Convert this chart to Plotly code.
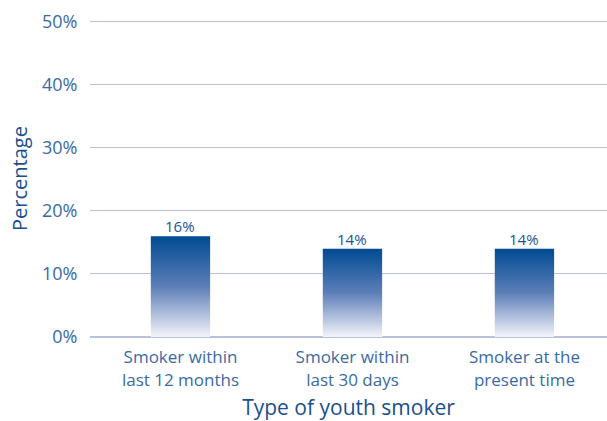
import plotly.graph_objects as go

# Share of youth by smoking status
categories = ["Smoker within<br>last 12 months", "Smoker within<br>last 30 days", "Smoker at the<br>present time"]
values = [16, 14, 14]
y_ticks = [0, 10, 20, 30, 40, 50]
y_tick_labels = ["0%", "10%", "20%", "30%", "40%", "50%"]

BAR_WIDTH = 0.345
DARK = "#004a92"
LIGHT = "#f4f4fa"
TICK_COLOR = "#3a6aa3"
TITLE_COLOR = "#1a508f"
GRID = "#b9c1dc"
FONT = "Open Sans, Noto Sans, sans-serif"

fig = go.Figure()

# Each bar is a filled rectangle with a vertical gradient (light at bottom, dark at top)
for i, v in enumerate(values):
    x0, x1 = i - BAR_WIDTH / 2, i + BAR_WIDTH / 2
    fig.add_trace(go.Scatter(
        x=[x0, x1, x1, x0, x0],
        y=[0, 0, v, v, 0],
        mode="lines",
        line=dict(width=0),
        fill="toself",
        fillgradient=dict(
            type="vertical",
            colorscale=[[0, LIGHT], [0.5, "#5d7fb8"], [1, DARK]],
        ),
        hoverinfo="skip",
        showlegend=False,
    ))

# Value labels above the bars
for i, v in enumerate(values):
    fig.add_annotation(
        x=i, y=v, text=f"{v}%", showarrow=False,
        yanchor="bottom", yshift=-2,
        font=dict(family=FONT, size=15, color="#1d5593"),
    )

fig.update_layout(
    width=607,
    height=421,
    margin=dict(l=90, r=0, t=20, b=84),
    paper_bgcolor="white",
    plot_bgcolor="white",
    font=dict(family=FONT, color=TICK_COLOR),
    xaxis=dict(
        range=[-0.526, 2.48],
        tickvals=list(range(len(categories))),
        ticktext=categories,
        tickfont=dict(size=17, color=TICK_COLOR),
        showgrid=False,
        zeroline=False,
        showline=False,
        ticks="outside",
        ticklen=5,
        tickcolor="rgba(0,0,0,0)",
        title=dict(text="Type of youth smoker", font=dict(size=21, color=TITLE_COLOR), standoff=14),
    ),
    yaxis=dict(
        range=[0, 50.3],
        tickvals=y_ticks,
        ticktext=y_tick_labels,
        tickfont=dict(size=18, color=TICK_COLOR),
        showgrid=True,
        gridcolor=GRID,
        gridwidth=1.3,
        zeroline=True,
        zerolinecolor=GRID,
        zerolinewidth=2,
        ticks="outside",
        ticklen=8,
        tickcolor="rgba(0,0,0,0)",
        showline=False,
        title=dict(text="Percentage", font=dict(size=20, color=TITLE_COLOR), standoff=8),
    ),
)

fig.write_html("out.html")
